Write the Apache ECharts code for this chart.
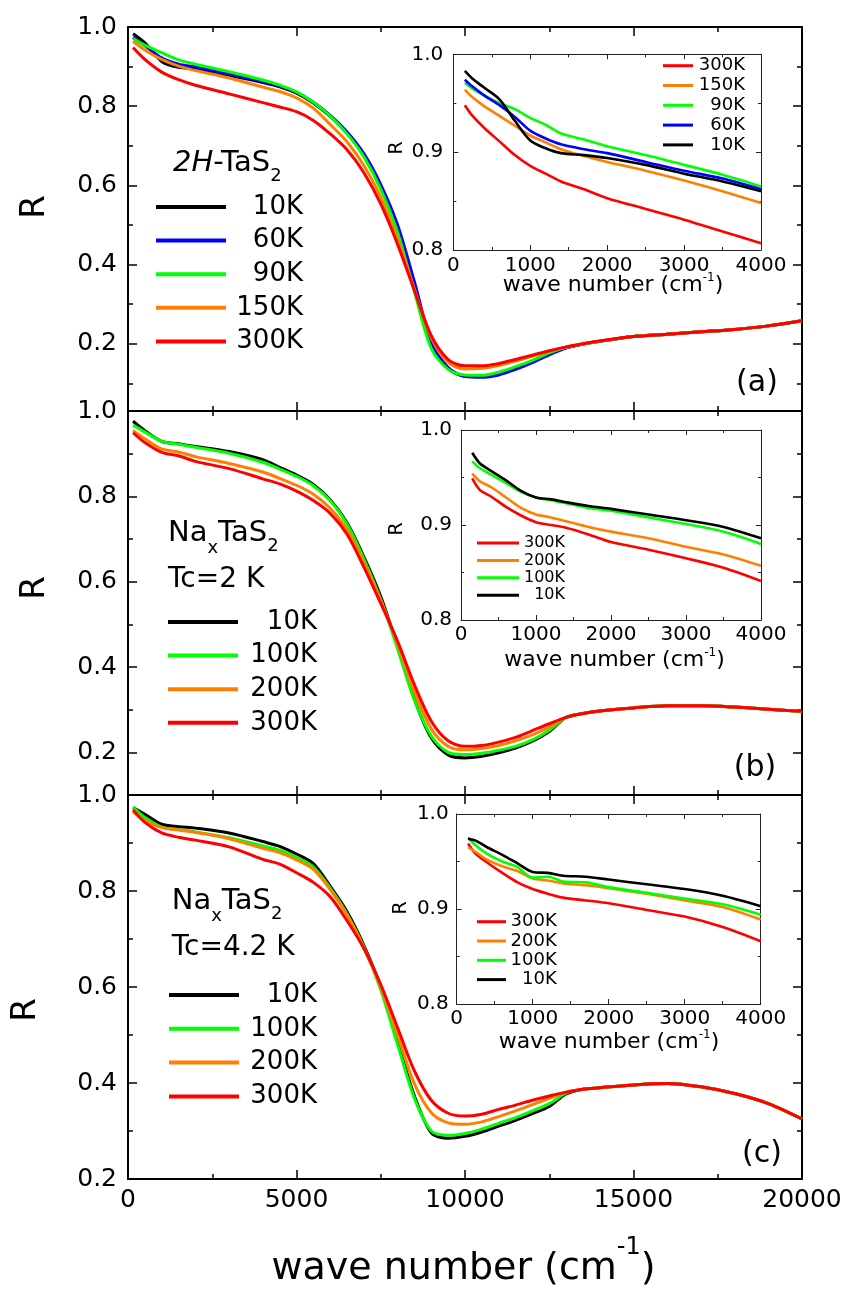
<!DOCTYPE html>
<html><head><meta charset="utf-8">
<script src="https://cdn.jsdelivr.net/npm/echarts@6/dist/echarts.min.js"></script>
<style>html,body{margin:0;padding:0;background:#fff}#c{width:848px;height:1292px}</style>
</head><body><div id="c"></div>
<script>
// ---------- data ----------
const xMain = [150,500,1000,1500,2000,3000,4000,4500,5000,5500,6000,6500,7000,7500,8000,8500,9000,9500,10000,10500,11000,11500,12000,12500,13000,13500,14000,15000,16000,17000,18000,19000,20000];
// panel (a) 2H-TaS2
const a10K  = [0.983,0.960,0.913,0.898,0.894,0.878,0.860,0.849,0.833,0.808,0.774,0.732,0.676,0.596,0.492,0.346,0.197,0.137,0.118,0.117,0.124,0.138,0.155,0.175,0.190,0.199,0.206,0.218,0.224,0.230,0.236,0.245,0.258];
const a60K  = [0.974,0.953,0.922,0.906,0.899,0.881,0.862,0.851,0.835,0.810,0.777,0.735,0.680,0.602,0.500,0.356,0.205,0.140,0.117,0.115,0.121,0.135,0.152,0.172,0.189,0.199,0.206,0.218,0.224,0.230,0.236,0.245,0.258];
const a90K  = [0.971,0.954,0.935,0.917,0.906,0.887,0.866,0.853,0.836,0.810,0.775,0.730,0.672,0.590,0.481,0.331,0.188,0.135,0.121,0.120,0.128,0.142,0.158,0.177,0.191,0.199,0.206,0.218,0.224,0.230,0.236,0.245,0.258];
const a150K = [0.964,0.942,0.918,0.901,0.890,0.871,0.848,0.837,0.821,0.795,0.754,0.710,0.650,0.570,0.463,0.338,0.215,0.153,0.136,0.138,0.145,0.156,0.169,0.181,0.191,0.199,0.206,0.218,0.224,0.230,0.236,0.245,0.258];
const a300K = [0.948,0.918,0.886,0.867,0.853,0.831,0.809,0.798,0.786,0.764,0.730,0.690,0.632,0.553,0.451,0.334,0.220,0.160,0.144,0.144,0.150,0.160,0.171,0.182,0.192,0.200,0.207,0.218,0.224,0.230,0.236,0.245,0.258];
// panel (b) NaxTaS2 Tc=2 K
const b10K  = [0.976,0.954,0.929,0.923,0.917,0.905,0.886,0.868,0.850,0.828,0.792,0.738,0.658,0.565,0.448,0.324,0.234,0.194,0.187,0.191,0.199,0.210,0.226,0.249,0.282,0.291,0.297,0.304,0.309,0.309,0.306,0.301,0.296];
const b100K = [0.967,0.951,0.929,0.922,0.915,0.901,0.880,0.864,0.847,0.825,0.790,0.735,0.653,0.558,0.443,0.322,0.238,0.200,0.195,0.198,0.205,0.214,0.229,0.252,0.282,0.291,0.297,0.304,0.309,0.309,0.306,0.301,0.296];
const b200K = [0.954,0.935,0.911,0.904,0.893,0.877,0.857,0.842,0.826,0.805,0.772,0.722,0.644,0.556,0.454,0.342,0.255,0.214,0.206,0.209,0.216,0.227,0.241,0.259,0.282,0.291,0.297,0.304,0.309,0.309,0.306,0.301,0.296];
const b300K = [0.949,0.926,0.903,0.895,0.882,0.865,0.841,0.829,0.812,0.790,0.760,0.711,0.634,0.549,0.460,0.358,0.273,0.227,0.214,0.216,0.224,0.235,0.251,0.267,0.282,0.291,0.297,0.304,0.309,0.309,0.306,0.301,0.296];
// panel (c) NaxTaS2 Tc=4.2 K
const c10K  = [0.974,0.960,0.939,0.934,0.931,0.921,0.903,0.893,0.877,0.857,0.810,0.757,0.687,0.600,0.486,0.373,0.296,0.285,0.289,0.298,0.310,0.322,0.336,0.351,0.377,0.387,0.390,0.396,0.399,0.392,0.378,0.357,0.325];
const c100K = [0.975,0.953,0.933,0.928,0.923,0.911,0.894,0.885,0.870,0.850,0.806,0.752,0.683,0.594,0.480,0.368,0.300,0.291,0.295,0.304,0.316,0.328,0.342,0.357,0.379,0.387,0.390,0.396,0.399,0.392,0.378,0.357,0.325];
const c200K = [0.965,0.947,0.932,0.927,0.922,0.909,0.889,0.880,0.865,0.845,0.803,0.750,0.682,0.600,0.500,0.398,0.338,0.317,0.314,0.319,0.330,0.342,0.355,0.368,0.381,0.387,0.390,0.396,0.399,0.392,0.378,0.357,0.325];
const c300K = [0.969,0.943,0.921,0.912,0.906,0.892,0.866,0.856,0.838,0.818,0.788,0.738,0.680,0.605,0.515,0.425,0.364,0.337,0.331,0.335,0.345,0.354,0.364,0.373,0.381,0.387,0.390,0.396,0.399,0.392,0.378,0.357,0.325];
// insets (0-4000 cm-1)
const xInset = [150,250,400,600,800,1000,1200,1400,1700,2000,2500,3000,3500,4000];
const ia300K = [0.948,0.937,0.925,0.911,0.897,0.886,0.878,0.870,0.862,0.853,0.842,0.831,0.819,0.807];
const ia150K = [0.964,0.956,0.947,0.937,0.927,0.917,0.910,0.903,0.896,0.890,0.881,0.871,0.860,0.848];
const ia90K  = [0.971,0.965,0.958,0.950,0.944,0.935,0.928,0.919,0.913,0.906,0.897,0.887,0.877,0.865];
const ia60K  = [0.974,0.967,0.958,0.948,0.936,0.922,0.914,0.908,0.903,0.899,0.890,0.881,0.873,0.862];
const ia10K  = [0.983,0.975,0.966,0.954,0.932,0.912,0.904,0.899,0.897,0.894,0.887,0.878,0.870,0.860];
const ib300K = [0.949,0.937,0.930,0.919,0.910,0.903,0.900,0.897,0.890,0.882,0.874,0.865,0.855,0.841];
const ib200K = [0.954,0.946,0.940,0.929,0.918,0.911,0.908,0.904,0.898,0.893,0.886,0.877,0.869,0.857];
const ib100K = [0.967,0.960,0.953,0.944,0.935,0.929,0.926,0.923,0.918,0.915,0.908,0.901,0.893,0.880];
const ib10K  = [0.976,0.965,0.957,0.947,0.936,0.929,0.927,0.924,0.920,0.917,0.911,0.905,0.898,0.886];
const ic300K = [0.969,0.958,0.949,0.938,0.928,0.921,0.916,0.912,0.909,0.906,0.899,0.892,0.881,0.866];
const ic200K = [0.965,0.960,0.952,0.945,0.940,0.932,0.930,0.927,0.925,0.922,0.916,0.909,0.902,0.889];
const ic100K = [0.975,0.967,0.958,0.950,0.944,0.933,0.934,0.929,0.928,0.923,0.917,0.911,0.905,0.894];
const ic10K  = [0.974,0.972,0.965,0.957,0.948,0.939,0.938,0.935,0.934,0.931,0.926,0.921,0.914,0.903];
// ticks
const yMainTicks = [0.2,0.4,0.6,0.8,1.0];
const yMainMinor = [0.1,0.3,0.5,0.7,0.9];
const yMainMin = [0.03,0.1,0.2];

// ---------- styling / layout ----------
const FONT = 'DejaVu Sans';
const C = {'10K':'#000000','60K':'#0000ff','90K':'#00ff00','100K':'#00ff00','150K':'#ff8000','200K':'#ff8000','300K':'#ff0000'};
const mainTops = [27,411,795];
const insetBox = [{left:453.3,top:54.3,width:307.7,height:195.7,ym:10,xm:5.5},
                  {left:461,top:430,width:300,height:190,ym:9,xm:5},
                  {left:456.7,top:814,width:304,height:190,ym:8,xm:4.5}];

const grid = mainTops.map(t=>({left:128,width:674,top:t,height:384}))
  .concat(insetBox.map(b=>({left:b.left,top:b.top,width:b.width,height:b.height,show:true,backgroundColor:'#fff',borderWidth:0})));

const plain = v => String(Math.round(v));
const xAxis = [], yAxis = [];
function mX(g,pos,lab){
  return {type:'value',gridIndex:g,position:pos,min:0,max:20000,interval:5000,
    axisLine:{show:true,onZero:false,lineStyle:{color:'#000',width:2}},
    axisTick:{show:true,inside:true,length:9,lineStyle:{color:'#000',width:1.5}},
    minorTick:{show:true,splitNumber:2,length:5,lineStyle:{color:'#000',width:1.5}},
    splitLine:{show:false},minorSplitLine:{show:false},
    axisLabel:{show:lab,margin:9,formatter:plain,fontFamily:FONT,fontSize:25,color:'#000',showMinLabel:true,showMaxLabel:true}};
}
function mY(g,pos,min,major,lab){
  const vals = major ? yMainTicks : yMainMinor.filter(v=>v>min+1e-6);
  return {type:'value',gridIndex:g,position:pos,min:min,max:1.0,
    axisLine:{show:major,onZero:false,lineStyle:{color:'#000',width:2}},
    axisTick:{show:true,inside:true,length:major?9:5,customValues:vals,lineStyle:{color:'#000',width:1.5}},
    axisLabel:{show:lab,customValues:yMainTicks,formatter:v=>v.toFixed(1),margin:11,fontFamily:FONT,fontSize:25,color:'#000'},
    splitLine:{show:false}};
}
function iX(g,pos,lab,m){
  return {type:'value',gridIndex:g,position:pos,min:0,max:4000,interval:1000,
    axisLine:{show:true,onZero:false,lineStyle:{color:'#222',width:1}},
    axisTick:{show:true,inside:true,length:5,lineStyle:{color:'#222',width:1}},
    minorTick:{show:true,splitNumber:2,length:3,lineStyle:{color:'#222',width:1}},
    splitLine:{show:false},minorSplitLine:{show:false},
    axisLabel:{show:lab,margin:m,formatter:plain,fontFamily:FONT,fontSize:20,color:'#000',showMinLabel:true,showMaxLabel:true}};
}
function iY(g,pos,lab,m){
  return {type:'value',gridIndex:g,position:pos,min:0.8,max:1.0,interval:0.1,
    axisLine:{show:true,onZero:false,lineStyle:{color:'#222',width:1}},
    axisTick:{show:true,inside:true,length:5,lineStyle:{color:'#222',width:1}},
    minorTick:{show:true,splitNumber:2,length:3,lineStyle:{color:'#222',width:1}},
    splitLine:{show:false},minorSplitLine:{show:false},
    axisLabel:{show:lab,margin:m,formatter:v=>v.toFixed(1),fontFamily:FONT,fontSize:20,color:'#000',showMinLabel:true,showMaxLabel:true}};
}
for(let i=0;i<3;i++){
  xAxis.push(mX(i,'bottom',i===2)); xAxis.push(mX(i,'top',false));
  yAxis.push(mY(i,'left',yMainMin[i],true,true));
  yAxis.push(mY(i,'left',yMainMin[i],false,false));
  yAxis.push(mY(i,'right',yMainMin[i],true,false));
  yAxis.push(mY(i,'right',yMainMin[i],false,false));
}
for(let j=0;j<3;j++){
  xAxis.push(iX(3+j,'bottom',true,insetBox[j].xm)); xAxis.push(iX(3+j,'top',false,5));
  yAxis.push(iY(3+j,'left',true,insetBox[j].ym)); yAxis.push(iY(3+j,'right',false,5));
}

const series = [];
function addMain(p,name,arr){
  series.push({type:'line',name,xAxisIndex:2*p,yAxisIndex:4*p,
    data:xMain.map((x,k)=>[x,arr[k]]),symbol:'none',smooth:0.3,
    lineStyle:{width:3,color:C[name]},itemStyle:{color:C[name]},silent:true,z:3});
}
function addInset(p,name,arr){
  series.push({type:'line',name,xAxisIndex:6+2*p,yAxisIndex:12+2*p,
    data:xInset.map((x,k)=>[x,arr[k]]),symbol:'none',smooth:0.3,
    lineStyle:{width:2.6,color:C[name]},itemStyle:{color:C[name]},silent:true,z:5});
}
addMain(0,'10K',a10K); addMain(0,'60K',a60K); addMain(0,'90K',a90K); addMain(0,'150K',a150K); addMain(0,'300K',a300K);
addMain(1,'10K',b10K); addMain(1,'100K',b100K); addMain(1,'200K',b200K); addMain(1,'300K',b300K);
addMain(2,'10K',c10K); addMain(2,'100K',c100K); addMain(2,'200K',c200K); addMain(2,'300K',c300K);
addInset(0,'300K',ia300K); addInset(0,'150K',ia150K); addInset(0,'90K',ia90K); addInset(0,'60K',ia60K); addInset(0,'10K',ia10K);
addInset(1,'300K',ib300K); addInset(1,'200K',ib200K); addInset(1,'100K',ib100K); addInset(1,'10K',ib10K);
addInset(2,'300K',ic300K); addInset(2,'200K',ic200K); addInset(2,'100K',ic100K); addInset(2,'10K',ic10K);

function lg(names,left,top,W,fs,lh,gap,iw,ih){
  return {orient:'vertical',left,top,padding:0,itemGap:gap,itemWidth:iw,itemHeight:ih,icon:'rect',
    data:names,selectedMode:false,formatter:'{r|{name}}',z:10,
    textStyle:{fontFamily:FONT,fontSize:fs,color:'#000',
      rich:{r:{width:W,align:'right',fontFamily:FONT,fontSize:fs,lineHeight:lh,color:'#000'}}}};
}
const legend = [
  lg(['10K','60K','90K','150K','300K'],156,194,72,26,30,7.6,70,4),
  lg(['10K','100K','200K','300K'],168,609,74,26,30,7.6,70,4),
  lg(['10K','100K','200K','300K'],169,982,73,26,30,7.8,70,4),
  lg(['300K','150K','90K','60K','10K'],663,56.7,47,18,20,1.8,30,3),
  lg(['300K','200K','100K','10K'],477,535,41,16,18,1.4,42,3),
  lg(['300K','200K','100K','10K'],477,912.7,45.7,18,20,1.3,29,3)
];

function T(x,y,text,fs,align){
  return {type:'text',x,y,z:20,style:{text,fontFamily:FONT,fontSize:fs,fill:'#000',align:align||'left',verticalAlign:'middle'}};
}
function Rlab(x,y,fs){
  return {type:'text',x,y,rotation:Math.PI/2,z:20,style:{text:'R',fontFamily:FONT,fontSize:fs,fill:'#000',align:'center',verticalAlign:'middle'}};
}
function rich(x,y,text,align,r){
  return {type:'text',x,y,z:20,style:{text,align,verticalAlign:'middle',fontFamily:FONT,fill:'#000',rich:r}};
}
const titleRich = {
  m:{fontFamily:FONT,fontSize:29,lineHeight:48,fill:'#000'},
  i:{fontFamily:FONT,fontSize:29,lineHeight:48,fontStyle:'italic',fill:'#000'},
  x:{fontFamily:FONT,fontSize:18,padding:[30,0,0,0],fill:'#000'},
  s:{fontFamily:FONT,fontSize:18,padding:[26,0,0,0],fill:'#000'}
};
const supMain = {m:{fontFamily:FONT,fontSize:38,lineHeight:50,fill:'#000'},s:{fontFamily:FONT,fontSize:24,padding:[0,0,42,0],fill:'#000'}};
const supInset = {m:{fontFamily:FONT,fontSize:22,lineHeight:26,fill:'#000'},s:{fontFamily:FONT,fontSize:12,padding:[0,0,15,0],fill:'#000'}};

const graphic = [
  rich(173,163.5,'{i|2H}{m|-TaS}{s|2}','left',titleRich),
  rich(168,533,'{m|Na}{x|x}{m|TaS}{s|2}','left',titleRich),
  T(168,579.5,'Tc=2 K',28),
  rich(171.7,901,'{m|Na}{x|x}{m|TaS}{s|2}','left',titleRich),
  T(171.7,947.5,'Tc=4.2 K',28),
  T(757,383,'(a)',30,'center'),
  T(755,768,'(b)',30,'center'),
  T(762,1154,'(c)',30,'center'),
  Rlab(35,207,34), Rlab(35,588,34), Rlab(26,1010,34),
  Rlab(397.5,148,19), Rlab(397,529,19), Rlab(401,908,19),
  rich(463.5,1269,'{m|wave number (cm}{s|-1}{m|)}','center',supMain),
  rich(613,285.5,'{m|wave number (cm}{s|-1}{m|)}','center',supInset),
  rich(614.5,660,'{m|wave number (cm}{s|-1}{m|)}','center',supInset),
  rich(609,1042,'{m|wave number (cm}{s|-1}{m|)}','center',supInset)
];

const chart = echarts.init(document.getElementById('c'),null,{renderer:'canvas'});
chart.setOption({animation:false,backgroundColor:'#fff',textStyle:{fontFamily:FONT},
  grid,xAxis,yAxis,series,legend,graphic,tooltip:{show:false}});
</script></body></html>
